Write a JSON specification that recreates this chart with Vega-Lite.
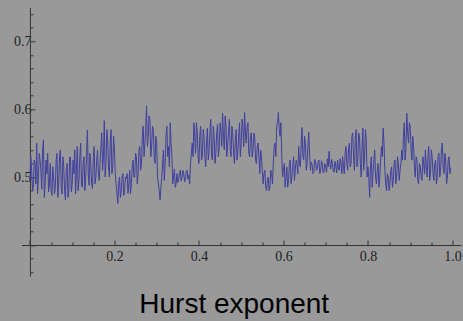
{
 "$schema": "https://vega.github.io/schema/vega-lite/v6.json",
 "width": 439.4,
 "height": 268.9,
 "autosize": "none",
 "padding": {"left": 21.5, "top": 7.3, "right": 2.1, "bottom": 44.8},
 "background": "#999999",
 "config": {"view": {"stroke": null}, "axis": {"grid": false}},
 "title": {"text": "Hurst exponent", "orient": "bottom", "anchor": "middle", "fontSize": 28, "font": "Liberation Sans", "fontWeight": "normal", "color": "#000000", "offset": 12, "dx": -7},
 "data": {"values": [
{"x":0,"y":0.495},{"x":0.004,"y":0.51},{"x":0.008,"y":0.485},{"x":0.012,"y":0.52},{"x":0.016,"y":0.55},
{"x":0.02,"y":0.5},{"x":0.024,"y":0.525},{"x":0.028,"y":0.482},{"x":0.032,"y":0.555},{"x":0.036,"y":0.49},
{"x":0.04,"y":0.505},{"x":0.044,"y":0.478},{"x":0.048,"y":0.52},{"x":0.052,"y":0.473},{"x":0.056,"y":0.5},
{"x":0.06,"y":0.485},{"x":0.064,"y":0.535},{"x":0.068,"y":0.49},{"x":0.072,"y":0.54},{"x":0.076,"y":0.475},
{"x":0.08,"y":0.515},{"x":0.084,"y":0.466},{"x":0.088,"y":0.52},{"x":0.092,"y":0.48},{"x":0.096,"y":0.528},
{"x":0.1,"y":0.49},{"x":0.104,"y":0.505},{"x":0.108,"y":0.475},{"x":0.112,"y":0.545},{"x":0.116,"y":0.495},
{"x":0.12,"y":0.55},{"x":0.124,"y":0.485},{"x":0.128,"y":0.53},{"x":0.132,"y":0.5},{"x":0.136,"y":0.569},
{"x":0.14,"y":0.488},{"x":0.144,"y":0.52},{"x":0.148,"y":0.483},{"x":0.152,"y":0.545},{"x":0.156,"y":0.5},
{"x":0.16,"y":0.54},{"x":0.164,"y":0.495},{"x":0.168,"y":0.545},{"x":0.172,"y":0.51},{"x":0.176,"y":0.583},
{"x":0.18,"y":0.52},{"x":0.184,"y":0.555},{"x":0.188,"y":0.5},{"x":0.192,"y":0.57},{"x":0.196,"y":0.515},
{"x":0.2,"y":0.54},{"x":0.204,"y":0.49},{"x":0.208,"y":0.461},{"x":0.212,"y":0.5},{"x":0.216,"y":0.478},
{"x":0.22,"y":0.505},{"x":0.224,"y":0.48},{"x":0.228,"y":0.498},{"x":0.232,"y":0.476},{"x":0.236,"y":0.51},
{"x":0.24,"y":0.49},{"x":0.244,"y":0.525},{"x":0.248,"y":0.5},{"x":0.252,"y":0.53},{"x":0.256,"y":0.505},
{"x":0.26,"y":0.545},{"x":0.264,"y":0.52},{"x":0.268,"y":0.575},{"x":0.272,"y":0.55},{"x":0.276,"y":0.605},
{"x":0.28,"y":0.56},{"x":0.284,"y":0.585},{"x":0.288,"y":0.545},{"x":0.292,"y":0.57},{"x":0.296,"y":0.52},
{"x":0.3,"y":0.55},{"x":0.304,"y":0.49},{"x":0.308,"y":0.466},{"x":0.312,"y":0.5},{"x":0.316,"y":0.54},
{"x":0.32,"y":0.52},{"x":0.324,"y":0.575},{"x":0.328,"y":0.545},{"x":0.332,"y":0.58},{"x":0.336,"y":0.53},
{"x":0.34,"y":0.5},{"x":0.344,"y":0.485},{"x":0.348,"y":0.505},{"x":0.352,"y":0.495},{"x":0.356,"y":0.51},
{"x":0.36,"y":0.5},{"x":0.364,"y":0.505},{"x":0.368,"y":0.497},{"x":0.372,"y":0.51},{"x":0.376,"y":0.503},
{"x":0.38,"y":0.52},{"x":0.384,"y":0.55},{"x":0.388,"y":0.58},{"x":0.392,"y":0.535},{"x":0.396,"y":0.565},
{"x":0.4,"y":0.52},{"x":0.404,"y":0.575},{"x":0.408,"y":0.53},{"x":0.412,"y":0.56},{"x":0.416,"y":0.515},
{"x":0.42,"y":0.572},{"x":0.424,"y":0.54},{"x":0.428,"y":0.585},{"x":0.432,"y":0.525},{"x":0.436,"y":0.56},
{"x":0.44,"y":0.535},{"x":0.444,"y":0.578},{"x":0.448,"y":0.545},{"x":0.452,"y":0.568},{"x":0.456,"y":0.594},
{"x":0.46,"y":0.54},{"x":0.464,"y":0.575},{"x":0.468,"y":0.55},{"x":0.472,"y":0.585},{"x":0.476,"y":0.53},
{"x":0.48,"y":0.565},{"x":0.484,"y":0.52},{"x":0.488,"y":0.57},{"x":0.492,"y":0.535},{"x":0.496,"y":0.58},
{"x":0.5,"y":0.55},{"x":0.504,"y":0.575},{"x":0.508,"y":0.595},{"x":0.512,"y":0.55},{"x":0.516,"y":0.58},
{"x":0.52,"y":0.53},{"x":0.524,"y":0.565},{"x":0.528,"y":0.54},{"x":0.532,"y":0.56},{"x":0.536,"y":0.52},
{"x":0.54,"y":0.55},{"x":0.544,"y":0.505},{"x":0.548,"y":0.53},{"x":0.552,"y":0.49},{"x":0.556,"y":0.51},
{"x":0.56,"y":0.48},{"x":0.564,"y":0.5},{"x":0.568,"y":0.485},{"x":0.572,"y":0.505},{"x":0.576,"y":0.52},
{"x":0.58,"y":0.55},{"x":0.584,"y":0.575},{"x":0.588,"y":0.595},{"x":0.592,"y":0.56},{"x":0.596,"y":0.53},
{"x":0.6,"y":0.51},{"x":0.604,"y":0.485},{"x":0.608,"y":0.515},{"x":0.612,"y":0.495},{"x":0.616,"y":0.525},
{"x":0.62,"y":0.5},{"x":0.624,"y":0.53},{"x":0.628,"y":0.51},{"x":0.632,"y":0.52},{"x":0.636,"y":0.545},
{"x":0.64,"y":0.515},{"x":0.644,"y":0.573},{"x":0.648,"y":0.525},{"x":0.652,"y":0.55},{"x":0.656,"y":0.52},
{"x":0.66,"y":0.566},{"x":0.664,"y":0.51},{"x":0.668,"y":0.518},{"x":0.672,"y":0.508},{"x":0.676,"y":0.523},
{"x":0.68,"y":0.512},{"x":0.684,"y":0.525},{"x":0.688,"y":0.51},{"x":0.692,"y":0.52},{"x":0.696,"y":0.508},
{"x":0.7,"y":0.515},{"x":0.704,"y":0.527},{"x":0.708,"y":0.538},{"x":0.712,"y":0.512},{"x":0.716,"y":0.52},
{"x":0.72,"y":0.507},{"x":0.724,"y":0.516},{"x":0.728,"y":0.525},{"x":0.732,"y":0.51},{"x":0.736,"y":0.52},
{"x":0.74,"y":0.53},{"x":0.744,"y":0.505},{"x":0.748,"y":0.545},{"x":0.752,"y":0.51},{"x":0.756,"y":0.55},
{"x":0.76,"y":0.52},{"x":0.764,"y":0.565},{"x":0.768,"y":0.51},{"x":0.772,"y":0.57},{"x":0.776,"y":0.525},
{"x":0.78,"y":0.56},{"x":0.784,"y":0.5},{"x":0.788,"y":0.572},{"x":0.792,"y":0.53},{"x":0.796,"y":0.555},
{"x":0.8,"y":0.515},{"x":0.804,"y":0.47},{"x":0.808,"y":0.53},{"x":0.812,"y":0.505},{"x":0.816,"y":0.54},
{"x":0.82,"y":0.49},{"x":0.824,"y":0.52},{"x":0.828,"y":0.5},{"x":0.832,"y":0.545},{"x":0.836,"y":0.572},
{"x":0.84,"y":0.51},{"x":0.844,"y":0.48},{"x":0.848,"y":0.5},{"x":0.852,"y":0.49},{"x":0.856,"y":0.515},
{"x":0.86,"y":0.495},{"x":0.864,"y":0.525},{"x":0.868,"y":0.5},{"x":0.872,"y":0.52},{"x":0.876,"y":0.51},
{"x":0.88,"y":0.54},{"x":0.884,"y":0.56},{"x":0.888,"y":0.525},{"x":0.892,"y":0.594},{"x":0.896,"y":0.55},
{"x":0.9,"y":0.575},{"x":0.904,"y":0.525},{"x":0.908,"y":0.545},{"x":0.912,"y":0.5},{"x":0.916,"y":0.525},
{"x":0.92,"y":0.49},{"x":0.924,"y":0.515},{"x":0.928,"y":0.495},{"x":0.932,"y":0.52},{"x":0.936,"y":0.54},
{"x":0.94,"y":0.5},{"x":0.944,"y":0.545},{"x":0.948,"y":0.505},{"x":0.952,"y":0.53},{"x":0.956,"y":0.495},
{"x":0.96,"y":0.525},{"x":0.964,"y":0.5},{"x":0.968,"y":0.535},{"x":0.972,"y":0.51},{"x":0.976,"y":0.55},
{"x":0.98,"y":0.505},{"x":0.984,"y":0.525},{"x":0.988,"y":0.5},{"x":0.992,"y":0.53},{"x":0.996,"y":0.514},
{"x":0.002,"y":0.53},{"x":0.006,"y":0.48},{"x":0.01,"y":0.525},{"x":0.014,"y":0.49},{"x":0.018,"y":0.475},
{"x":0.022,"y":0.535},{"x":0.026,"y":0.51},{"x":0.03,"y":0.54},{"x":0.034,"y":0.47},{"x":0.038,"y":0.525},
{"x":0.042,"y":0.535},{"x":0.046,"y":0.49},{"x":0.05,"y":0.48},{"x":0.054,"y":0.515},{"x":0.058,"y":0.475},
{"x":0.062,"y":0.525},{"x":0.066,"y":0.47},{"x":0.07,"y":0.53},{"x":0.074,"y":0.485},{"x":0.078,"y":0.53},
{"x":0.082,"y":0.48},{"x":0.086,"y":0.51},{"x":0.09,"y":0.47},{"x":0.094,"y":0.53},{"x":0.098,"y":0.478},
{"x":0.102,"y":0.525},{"x":0.106,"y":0.54},{"x":0.11,"y":0.51},{"x":0.114,"y":0.48},{"x":0.118,"y":0.53},
{"x":0.122,"y":0.49},{"x":0.126,"y":0.52},{"x":0.13,"y":0.48},{"x":0.134,"y":0.535},{"x":0.138,"y":0.505},
{"x":0.142,"y":0.535},{"x":0.146,"y":0.49},{"x":0.15,"y":0.53},{"x":0.154,"y":0.49},{"x":0.158,"y":0.525},
{"x":0.162,"y":0.505},{"x":0.166,"y":0.52},{"x":0.17,"y":0.565},{"x":0.174,"y":0.53},{"x":0.178,"y":0.5},
{"x":0.182,"y":0.57},{"x":0.186,"y":0.515},{"x":0.19,"y":0.55},{"x":0.194,"y":0.505},{"x":0.198,"y":0.56},
{"x":0.202,"y":0.505},{"x":0.206,"y":0.475},{"x":0.21,"y":0.49},{"x":0.214,"y":0.47},{"x":0.218,"y":0.5},
{"x":0.222,"y":0.473},{"x":0.226,"y":0.5},{"x":0.23,"y":0.505},{"x":0.234,"y":0.49},{"x":0.238,"y":0.475},
{"x":0.242,"y":0.515},{"x":0.246,"y":0.5},{"x":0.25,"y":0.535},{"x":0.254,"y":0.49},{"x":0.258,"y":0.54},
{"x":0.262,"y":0.51},{"x":0.266,"y":0.56},{"x":0.27,"y":0.53},{"x":0.274,"y":0.57},{"x":0.278,"y":0.545},
{"x":0.282,"y":0.59},{"x":0.286,"y":0.53},{"x":0.29,"y":0.575},{"x":0.294,"y":0.53},{"x":0.298,"y":0.56},
{"x":0.302,"y":0.5},{"x":0.306,"y":0.48},{"x":0.31,"y":0.485},{"x":0.314,"y":0.52},{"x":0.318,"y":0.495},
{"x":0.322,"y":0.56},{"x":0.326,"y":0.53},{"x":0.33,"y":0.515},{"x":0.334,"y":0.55},{"x":0.338,"y":0.49},
{"x":0.342,"y":0.512},{"x":0.346,"y":0.49},{"x":0.35,"y":0.492},{"x":0.354,"y":0.507},{"x":0.358,"y":0.494},
{"x":0.362,"y":0.51},{"x":0.366,"y":0.493},{"x":0.37,"y":0.508},{"x":0.374,"y":0.497},{"x":0.378,"y":0.49},
{"x":0.382,"y":0.535},{"x":0.386,"y":0.53},{"x":0.39,"y":0.56},{"x":0.394,"y":0.58},{"x":0.398,"y":0.53},
{"x":0.402,"y":0.56},{"x":0.406,"y":0.525},{"x":0.41,"y":0.57},{"x":0.414,"y":0.53},{"x":0.418,"y":0.55},
{"x":0.422,"y":0.525},{"x":0.426,"y":0.565},{"x":0.43,"y":0.53},{"x":0.434,"y":0.575},{"x":0.438,"y":0.52},
{"x":0.442,"y":0.565},{"x":0.446,"y":0.53},{"x":0.45,"y":0.58},{"x":0.454,"y":0.545},{"x":0.458,"y":0.56},
{"x":0.462,"y":0.59},{"x":0.466,"y":0.53},{"x":0.47,"y":0.565},{"x":0.474,"y":0.54},{"x":0.478,"y":0.575},
{"x":0.482,"y":0.535},{"x":0.486,"y":0.555},{"x":0.49,"y":0.525},{"x":0.494,"y":0.56},{"x":0.498,"y":0.53},
{"x":0.502,"y":0.585},{"x":0.506,"y":0.545},{"x":0.51,"y":0.565},{"x":0.514,"y":0.575},{"x":0.518,"y":0.535},
{"x":0.522,"y":0.56},{"x":0.526,"y":0.53},{"x":0.53,"y":0.565},{"x":0.534,"y":0.525},{"x":0.538,"y":0.545},
{"x":0.542,"y":0.53},{"x":0.546,"y":0.54},{"x":0.55,"y":0.51},{"x":0.554,"y":0.505},{"x":0.558,"y":0.485},
{"x":0.562,"y":0.495},{"x":0.566,"y":0.48},{"x":0.57,"y":0.51},{"x":0.574,"y":0.49},{"x":0.578,"y":0.545},
{"x":0.582,"y":0.53},{"x":0.586,"y":0.58},{"x":0.59,"y":0.57},{"x":0.594,"y":0.58},{"x":0.598,"y":0.5},
{"x":0.602,"y":0.52},{"x":0.606,"y":0.5},{"x":0.61,"y":0.485},{"x":0.614,"y":0.52},{"x":0.618,"y":0.49},
{"x":0.622,"y":0.515},{"x":0.626,"y":0.495},{"x":0.63,"y":0.525},{"x":0.634,"y":0.505},{"x":0.638,"y":0.52},
{"x":0.642,"y":0.55},{"x":0.646,"y":0.53},{"x":0.65,"y":0.56},{"x":0.654,"y":0.51},{"x":0.658,"y":0.545},
{"x":0.662,"y":0.53},{"x":0.666,"y":0.522},{"x":0.67,"y":0.505},{"x":0.674,"y":0.526},{"x":0.678,"y":0.51},
{"x":0.682,"y":0.522},{"x":0.686,"y":0.505},{"x":0.69,"y":0.524},{"x":0.694,"y":0.506},{"x":0.698,"y":0.52},
{"x":0.702,"y":0.507},{"x":0.706,"y":0.515},{"x":0.71,"y":0.52},{"x":0.714,"y":0.526},{"x":0.718,"y":0.508},
{"x":0.722,"y":0.523},{"x":0.726,"y":0.506},{"x":0.73,"y":0.512},{"x":0.734,"y":0.527},{"x":0.738,"y":0.505},
{"x":0.742,"y":0.515},{"x":0.746,"y":0.535},{"x":0.75,"y":0.52},{"x":0.754,"y":0.54},{"x":0.758,"y":0.515},
{"x":0.762,"y":0.56},{"x":0.766,"y":0.53},{"x":0.77,"y":0.555},{"x":0.774,"y":0.515},{"x":0.778,"y":0.565},
{"x":0.782,"y":0.52},{"x":0.786,"y":0.545},{"x":0.79,"y":0.51},{"x":0.794,"y":0.57},{"x":0.798,"y":0.5},
{"x":0.802,"y":0.5},{"x":0.806,"y":0.515},{"x":0.81,"y":0.485},{"x":0.814,"y":0.525},{"x":0.818,"y":0.5},
{"x":0.822,"y":0.51},{"x":0.826,"y":0.485},{"x":0.83,"y":0.525},{"x":0.834,"y":0.53},{"x":0.838,"y":0.55},
{"x":0.842,"y":0.49},{"x":0.846,"y":0.505},{"x":0.85,"y":0.48},{"x":0.854,"y":0.51},{"x":0.858,"y":0.485},
{"x":0.862,"y":0.52},{"x":0.866,"y":0.49},{"x":0.87,"y":0.53},{"x":0.874,"y":0.495},{"x":0.878,"y":0.52},
{"x":0.882,"y":0.525},{"x":0.886,"y":0.58},{"x":0.89,"y":0.545},{"x":0.894,"y":0.565},{"x":0.898,"y":0.58},
{"x":0.902,"y":0.54},{"x":0.906,"y":0.56},{"x":0.91,"y":0.515},{"x":0.914,"y":0.53},{"x":0.918,"y":0.495},
{"x":0.922,"y":0.52},{"x":0.926,"y":0.5},{"x":0.93,"y":0.53},{"x":0.934,"y":0.505},{"x":0.938,"y":0.515},
{"x":0.942,"y":0.53},{"x":0.946,"y":0.495},{"x":0.95,"y":0.54},{"x":0.954,"y":0.505},{"x":0.958,"y":0.52},
{"x":0.962,"y":0.49},{"x":0.966,"y":0.53},{"x":0.97,"y":0.5},{"x":0.974,"y":0.54},{"x":0.978,"y":0.515},
{"x":0.982,"y":0.535},{"x":0.986,"y":0.49},{"x":0.99,"y":0.525},{"x":0.994,"y":0.505}
 ]},
 "mark": {"type": "line", "color": "#3f3f9f", "strokeWidth": 1, "clip": true},
 "encoding": {
  "x": {"field": "x", "type": "quantitative",
   "scale": {"domain": [-0.02, 1.02], "nice": false, "zero": false},
   "axis": {"title": null, "orient": "bottom", "offset": -31.2,
    "values": [0,0.05,0.1,0.15,0.2,0.25,0.3,0.35,0.4,0.45,0.5,0.55,0.6,0.65,0.7,0.75,0.8,0.85,0.9,0.95,1.0],
    "labelExpr": "(abs(datum.value*5 - round(datum.value*5)) < 0.001 && datum.value > 0.001) ? format(datum.value, '.1f') : ''",
    "domainColor": "#333333", "domainWidth": 1, "tickColor": "#333333", "tickWidth": 1,
    "tickSize": {"condition": {"test": "abs(datum.value*5 - round(datum.value*5)) < 0.001", "value": -5}, "value": -3},
    "labelFont": "Liberation Serif", "labelFontSize": 14, "labelColor": "#222222", "labelPadding": 9,
    "labelFlush": false, "labelOverlap": false}},
  "y": {"field": "y", "type": "quantitative",
   "scale": {"domain": [0.354, 0.75], "nice": false, "zero": false},
   "axis": {"title": null, "orient": "left", "offset": -8.45,
    "values": [0.36,0.38,0.4,0.42,0.44,0.46,0.48,0.5,0.52,0.54,0.56,0.58,0.6,0.62,0.64,0.66,0.68,0.7,0.72,0.74],
    "labelExpr": "(abs(datum.value*10 - round(datum.value*10)) < 0.001 && datum.value > 0.45) ? format(datum.value, '.1f') : ''",
    "domainColor": "#333333", "domainWidth": 1, "tickColor": "#333333", "tickWidth": 1,
    "tickSize": {"condition": {"test": "abs(datum.value*10 - round(datum.value*10)) < 0.001", "value": -5}, "value": -3},
    "labelFont": "Liberation Serif", "labelFontSize": 14, "labelColor": "#222222", "labelPadding": 4,
    "labelFlush": false, "labelOverlap": false}}
 }
}
